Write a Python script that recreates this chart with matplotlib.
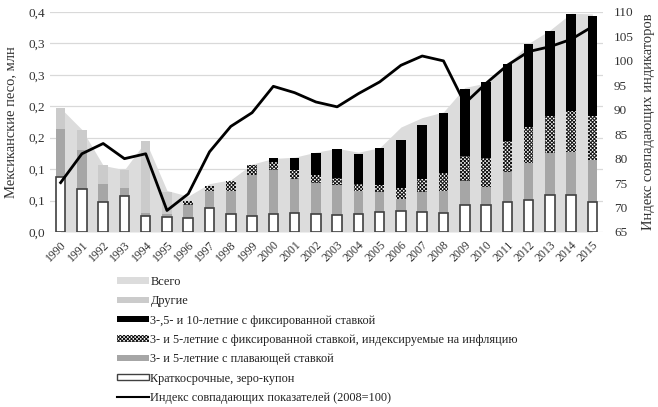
import matplotlib
matplotlib.use("Agg")
import matplotlib.pyplot as plt
from matplotlib.patches import Patch
from matplotlib.lines import Line2D
import numpy as np

plt.rcParams['font.family'] = ['Liberation Serif', 'DejaVu Serif']
plt.rcParams['hatch.linewidth'] = 0.7

years = [str(y) for y in range(1990, 2016)]

# stacked components (Mexican pesos, mln)
short_term = [0.0876, 0.069, 0.048, 0.058, 0.0255, 0.024, 0.0223, 0.0389, 0.0293, 0.025,
              0.0287, 0.0303, 0.0287, 0.0277, 0.0293, 0.0319, 0.0335, 0.0314, 0.0309, 0.0425,
              0.0425, 0.0484, 0.0516, 0.0595, 0.0595, 0.0484]
floating = [0.077, 0.061, 0.028, 0.012, 0.004, 0.004, 0.0202, 0.0259, 0.036, 0.0653,
            0.0696, 0.0547, 0.0493, 0.0467, 0.036, 0.0318, 0.0197, 0.0323, 0.0339, 0.0383,
            0.0292, 0.0472, 0.0574, 0.0665, 0.068, 0.0666]
inflation = [0.0, 0.0, 0.0, 0.0, 0.0, 0.0, 0.0065, 0.008, 0.0155, 0.0167,
             0.0127, 0.0144, 0.0134, 0.0122, 0.0107, 0.0107, 0.0169, 0.0203, 0.0292, 0.0402,
             0.0453, 0.0489, 0.058, 0.058, 0.0645, 0.070]
fixed = [0.0, 0.0, 0.0, 0.0, 0.0, 0.0, 0.0, 0.0, 0.0, 0.0,
         0.006, 0.0186, 0.034, 0.0462, 0.0478, 0.0594, 0.0769, 0.086, 0.0946, 0.1068,
         0.121, 0.1222, 0.1326, 0.136, 0.155, 0.159]
others = [0.032, 0.033, 0.030, 0.029, 0.115, 0.035, 0.0, 0.0, 0.0, 0.0,
          0.0, 0.0, 0.0, 0.0, 0.0, 0.0, 0.0, 0.0, 0.0, 0.0,
          0.0, 0.0, 0.0, 0.0, 0.0, 0.0]
total = [0.197, 0.163, 0.106, 0.099, 0.1445, 0.066, 0.057, 0.077, 0.083, 0.108,
         0.117, 0.119, 0.127, 0.133, 0.127, 0.134, 0.167, 0.182, 0.191, 0.230,
         0.237, 0.266, 0.300, 0.321, 0.348, 0.347]
# coincident indicators index (2008=100)
index = [75.1, 81.0, 83.1, 80.0, 81.0, 69.4, 72.8, 81.4, 86.6, 89.4,
         94.8, 93.5, 91.6, 90.6, 93.3, 95.7, 99.1, 101.0, 100.0, 91.3,
         95.4, 99.1, 101.9, 102.9, 104.4, 107.0]

yticks_left = [0.0, 0.05, 0.10, 0.15, 0.20, 0.25, 0.30, 0.35]
ytick_labels_left = ['0,0', '0,1', '0,1', '0,2', '0,2', '0,3', '0,3', '0,4']
yticks_right = [65, 70, 75, 80, 85, 90, 95, 100, 105, 110]

labels = ['Всего', 'Другие', '3-,5- и 10-летние с фиксированной ставкой',
          '3- и 5-летние с фиксированной ставкой, индексируемые на инфляцию',
          '3- и 5-летние с плавающей ставкой', 'Краткосрочные, зеро-купон',
          'Индекс совпадающих показателей (2008=100)']

c_total = '#dcdcdc'
c_other = '#cbcbcb'
c_float = '#a6a6a6'
tc = '#333333'
hatch = 'xxxxxxxxx'

fig = plt.figure(figsize=(6.58, 4.07), dpi=100)
ax = fig.add_axes([50/658, 1 - 232/407, 553/658, 220/407])
x = np.arange(len(years))
w = 0.45

ax.fill_between(x, 0, total, color=c_total, lw=0, zorder=1)
b0 = np.zeros(len(x))
ax.bar(x, short_term, w, bottom=b0, color='white', edgecolor='#404040', lw=1.2, zorder=3)
b1 = b0 + np.array(short_term)
ax.bar(x, floating, w, bottom=b1, color=c_float, lw=0, zorder=2)
b2 = b1 + np.array(floating)
ax.bar(x, inflation, w, bottom=b2, color='white', edgecolor='#111111', hatch=hatch, lw=0, zorder=2)
b3 = b2 + np.array(inflation)
ax.bar(x, fixed, w, bottom=b3, color='black', lw=0, zorder=2)
b4 = b3 + np.array(fixed)
ax.bar(x, others, w, bottom=b4, color=c_other, lw=0, zorder=2)

ax.set_xlim(-0.5, len(years) - 0.5)
ax.set_ylim(0, 0.35)
ax.set_yticks(yticks_left)
ax.set_yticklabels(ytick_labels_left, fontsize=9.5, color=tc)
ax.yaxis.grid(True, color='#d9d9d9', lw=0.9, zorder=0)
ax.set_axisbelow(True)
ax.set_xticks(x)
ax.set_xticklabels(years, rotation=45, ha='right', rotation_mode='anchor', fontsize=8.5, color=tc)
ax.tick_params(axis='both', length=0)
ax.tick_params(axis='x', pad=5)
ax.set_ylabel('Мексиканские песо, млн', fontsize=10.5, color=tc, labelpad=8)
for s in ax.spines.values():
    s.set_visible(False)

ax2 = ax.twinx()
ax2.plot(x, index, color='black', lw=2.0, zorder=5)
ax2.set_ylim(65, 110)
ax2.set_yticks(yticks_right)
ax2.set_yticklabels([str(v) for v in yticks_right], fontsize=9.5, color=tc)
ax2.tick_params(axis='y', length=0, pad=8)
ax2.set_ylabel('Индекс совпадающих индикаторов', fontsize=10.5, color=tc, rotation=90, labelpad=6)
for s in ax2.spines.values():
    s.set_visible(False)

handles = [Patch(facecolor=c_total, edgecolor='none'),
           Patch(facecolor=c_other, edgecolor='none'),
           Patch(facecolor='black', edgecolor='none'),
           Patch(facecolor='white', edgecolor='#111111', hatch=hatch, lw=0),
           Patch(facecolor=c_float, edgecolor='none'),
           Patch(facecolor='white', edgecolor='#404040', lw=1.0),
           Line2D([0], [0], color='black', lw=1.5)]
leg = fig.legend(handles, labels, loc='upper left', bbox_to_anchor=(112/658, 1 - 271/407),
                 frameon=False, fontsize=8.8, handlelength=2.6, handleheight=0.45,
                 handletextpad=0.15, labelspacing=0.6, borderaxespad=0)
for t in leg.get_texts():
    t.set_color('#222222')

fig.savefig('out.png', dpi=100)
